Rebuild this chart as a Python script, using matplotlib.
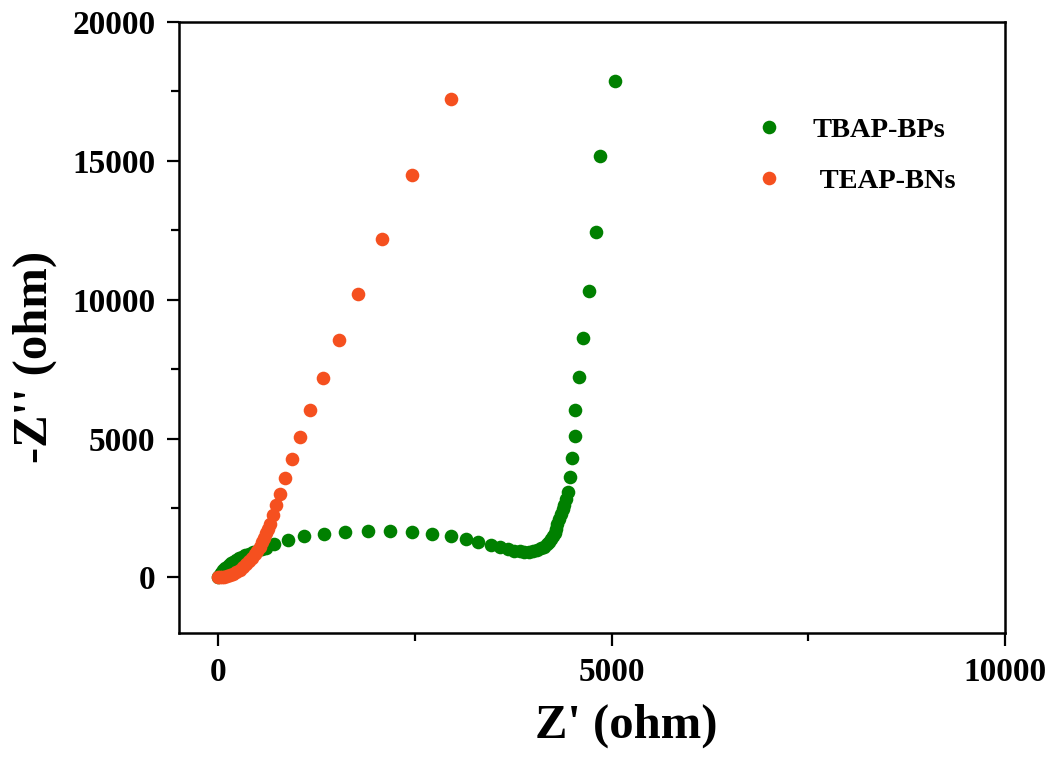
import matplotlib
matplotlib.use("Agg")
import matplotlib.pyplot as plt
from matplotlib.ticker import MultipleLocator

# ---- data ----
tbap_x = [0, 8, 18, 30, 45, 62, 82, 105, 130, 158,
          190, 225, 262, 302, 345, 392, 442, 495, 552, 612,
          710, 883, 1094, 1347, 1610, 1897, 2180, 2463, 2716, 2953,
          3143, 3300, 3469, 3580, 3680, 3760, 3830, 3890, 3950, 4005,
          4055, 4100, 4140, 4175, 4205, 4232, 4255, 4278, 4290, 4300,
          4325, 4356, 4378, 4398, 4420, 4440, 4470, 4490, 4534, 4537,
          4579, 4639, 4711, 4800, 4854, 5040]
tbap_y = [0, 45, 95, 150, 210, 270, 330, 390, 450, 510,
          570, 630, 685, 740, 795, 850, 905, 960, 1015, 1075,
          1213, 1333, 1477, 1574, 1632, 1669, 1669, 1632, 1574, 1477,
          1369, 1272, 1178, 1100, 1020, 965, 935, 920, 925, 950,
          990, 1045, 1110, 1190, 1280, 1380, 1490, 1610, 1760, 1935,
          2110, 2295, 2450, 2595, 2830, 3063, 3614, 4288, 5081, 6043,
          7218, 8623, 10332, 12422, 15182, 17884]

teap_x = [0, 20, 45, 75, 110, 150, 190, 230, 270, 310,
          350, 390, 425, 460, 495, 525, 555, 585, 610, 635,
          659, 693, 735, 786, 845, 934, 1039, 1166, 1331, 1530,
          1770, 2079, 2459, 2958]
teap_y = [0, 5, 15, 30, 55, 90, 140, 200, 280, 370,
          470, 580, 700, 830, 970, 1110, 1260, 1420, 1590, 1760,
          1935, 2234, 2595, 3015, 3568, 4264, 5070, 6030, 7196, 8566,
          10222, 12169, 14486, 17225]

series_labels = ["TBAP-BPs", " TEAP-BNs"]
series_colors = ["#008000", "#F5501F"]

x_ticks = [0, 5000, 10000]
y_ticks = [0, 5000, 10000, 15000, 20000]

plt.rcParams['font.family'] = ['Liberation Serif', 'DejaVu Serif']
plt.rcParams['font.weight'] = 'bold'

fig = plt.figure(figsize=(10.55, 7.69), dpi=100)
ax = fig.add_axes([179 / 1055, 1 - 633 / 769, (1005 - 179) / 1055, (633 - 22) / 769])

ax.plot(tbap_x, tbap_y, 'o', ms=9.8, color=series_colors[0], mec='none',
        label=series_labels[0])
ax.plot(teap_x, teap_y, 'o', ms=9.8, color=series_colors[1], mec='none',
        label=series_labels[1])

ax.set_xlim(-500, 10000)
ax.set_ylim(-2000, 20000)
ax.set_xticks(x_ticks)
ax.set_yticks(y_ticks)
ax.xaxis.set_minor_locator(MultipleLocator(2500))
ax.yaxis.set_minor_locator(MultipleLocator(2500))

ax.tick_params(which='major', direction='out', length=9, width=1.6, labelsize=24, pad=8)
ax.tick_params(which='minor', direction='out', length=5.5, width=1.6)
ax.tick_params(top=False, right=False, which='both')
for lab in ax.get_xticklabels() + ax.get_yticklabels():
    lab.set_fontweight('bold')
for sp in ax.spines.values():
    sp.set_linewidth(1.8)

ax.set_xlabel("Z' (ohm)", fontsize=35, fontweight='bold')
ax.set_ylabel("-Z'' (ohm)", fontsize=35, fontweight='bold')
ax.xaxis.label.set_va('center')
ax.yaxis.label.set_va('center')
ax.xaxis.set_label_coords((626 - 179) / 826, (633 - 726) / 611)
ax.yaxis.set_label_coords((35 - 179) / 826, (633 - 357) / 611)

leg = ax.legend(loc='upper left', bbox_to_anchor=(741 / 1055, 1 - 117 / 769),
                bbox_transform=fig.transFigure, frameon=False, fontsize=20.5,
                handlelength=2.0, handletextpad=0.52, labelspacing=0.88,
                borderpad=0, borderaxespad=0, numpoints=1)
for t in leg.get_texts():
    t.set_fontweight('bold')

fig.savefig("out.png", dpi=100)
